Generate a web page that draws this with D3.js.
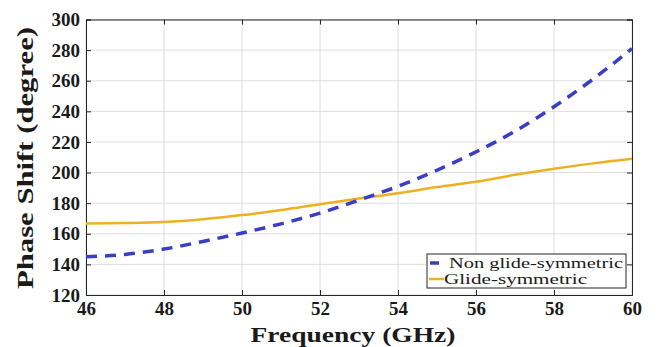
<!DOCTYPE html>
<html>
<head>
<meta charset="utf-8">
<script src="https://cdn.jsdelivr.net/npm/d3@7"></script>
<style>
  body { margin: 0; background: #fff; }
  svg text { font-family: "Liberation Serif", serif; fill: #1a1a1a; }
</style>
</head>
<body>
<div class="chart"></div>
<script>
// frequency points (GHz)
var freq = [46, 47, 48, 49, 50, 51, 52, 53, 54, 55, 56, 57, 58, 59, 60];
// phase shift (degree)
var nonGlide = [145, 146.5, 150, 155, 160.5, 166.5, 173.5, 182, 191, 201.5, 213.5, 227, 243, 261, 281];
var glide = [166.7, 167, 167.7, 169.5, 172.2, 175.5, 179.3, 183, 186.5, 190.5, 194, 198.5, 202.5, 206, 209];
var xTicks = [46, 48, 50, 52, 54, 56, 58, 60];
var yTicks = [120, 140, 160, 180, 200, 220, 240, 260, 280, 300];
var seriesNames = ['Non glide-symmetric', 'Glide-symmetric'];

var width = 660, height = 347;
var margin = {top: 19.5, right: 28, bottom: 52, left: 86};
var w = width - margin.left - margin.right;
var h = height - margin.top - margin.bottom;
var serif = '"Liberation Serif", serif';

var svg = d3.select('.chart').append('svg').attr('width', width).attr('height', height);
var g = svg.append('g').attr('transform', `translate(${margin.left},${margin.top})`);

var x = d3.scaleLinear().domain([46, 60]).range([0, w]);
var y = d3.scaleLinear().domain([120, 300]).range([h, 0]);

// grid
g.append('g').selectAll('line').data(xTicks).enter().append('line')
  .attr('x1', d => x(d)).attr('x2', d => x(d)).attr('y1', 0).attr('y2', h)
  .attr('stroke', '#dedede').attr('stroke-width', 1);
g.append('g').selectAll('line').data(yTicks).enter().append('line')
  .attr('y1', d => y(d)).attr('y2', d => y(d)).attr('x1', 0).attr('x2', w)
  .attr('stroke', '#dedede').attr('stroke-width', 1);

// axes (ticks inward, matlab style)
var xAxis = g.append('g').attr('transform', `translate(0,${h})`)
  .call(d3.axisBottom(x).tickValues(xTicks).tickSize(-5).tickPadding(7));
var yAxis = g.append('g')
  .call(d3.axisLeft(y).tickValues(yTicks).tickSize(-5).tickPadding(6));
g.append('g').call(d3.axisTop(x).tickValues(xTicks).tickSize(-5).tickFormat(''));
g.append('g').attr('transform', `translate(${w},0)`)
  .call(d3.axisRight(y).tickValues(yTicks).tickSize(-5).tickFormat(''));

g.selectAll('.domain').attr('stroke', '#262626').attr('stroke-width', 1);
g.selectAll('.tick line').attr('stroke', '#262626');
xAxis.attr('font-family', serif).selectAll('text')
  .attr('font-size', 19).attr('font-weight', 'bold').attr('dy', '0.71em');
yAxis.attr('font-family', serif).selectAll('text')
  .attr('font-size', 19).attr('font-weight', 'bold');

// lines
var line = d3.line().x((d, i) => x(freq[i])).y(d => y(d)).curve(d3.curveMonotoneX);

g.append('path').datum(glide).attr('d', line)
  .attr('fill', 'none').attr('stroke', '#EDB120').attr('stroke-width', 2.5);
g.append('path').datum(nonGlide).attr('d', line)
  .attr('fill', 'none').attr('stroke', '#3a3ec4').attr('stroke-width', 3.5)
  .attr('stroke-dasharray', '11,8');

// legend
var leg = g.append('g').attr('transform', `translate(${427 - margin.left},${254 - margin.top})`);
leg.append('rect').attr('width', 199).attr('height', 34)
  .attr('fill', '#fff').attr('stroke', '#262626').attr('stroke-width', 1);
leg.append('line').attr('x1', 3).attr('x2', 12).attr('y1', 9).attr('y2', 9)
  .attr('stroke', '#3a3ec4').attr('stroke-width', 3.5);
leg.append('line').attr('x1', 2).attr('x2', 17).attr('y1', 25).attr('y2', 25)
  .attr('stroke', '#EDB120').attr('stroke-width', 2.5);
leg.append('text').attr('x', 22).attr('y', 9).attr('dy', '0.35em')
  .attr('font-size', 15).attr('textLength', 174).attr('lengthAdjust', 'spacingAndGlyphs')
  .text(seriesNames[0]);
leg.append('text').attr('x', 17).attr('y', 25).attr('dy', '0.35em')
  .attr('font-size', 15).attr('textLength', 143).attr('lengthAdjust', 'spacingAndGlyphs')
  .text(seriesNames[1]);

// axis titles
svg.append('text').attr('x', 353).attr('y', 334).attr('dy', '0.35em')
  .attr('text-anchor', 'middle').attr('font-size', 22).attr('font-weight', 'bold')
  .attr('textLength', 205).attr('lengthAdjust', 'spacingAndGlyphs')
  .text('Frequency (GHz)');
svg.append('text').attr('transform', 'translate(25,158) rotate(-90)').attr('dy', '0.35em')
  .attr('text-anchor', 'middle').attr('font-size', 24).attr('font-weight', 'bold')
  .attr('textLength', 262).attr('lengthAdjust', 'spacingAndGlyphs')
  .text('Phase Shift (degree)');
</script>
</body>
</html>
